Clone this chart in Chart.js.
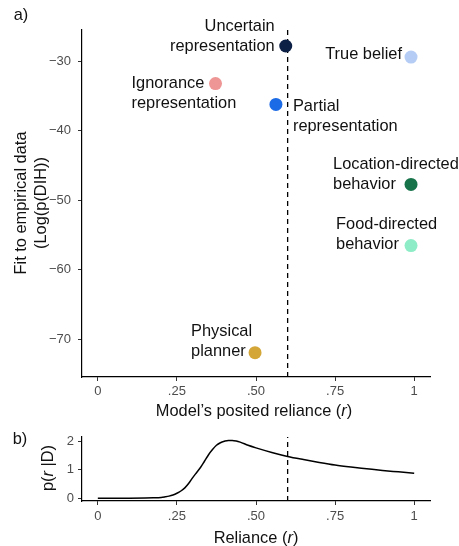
<!DOCTYPE html>
<html>
<head>
<meta charset="utf-8">
<script src="https://cdn.jsdelivr.net/npm/chart.js@4.4.1/dist/chart.umd.min.js"></script>
<style>
  body { margin: 0; background: #fff; }
  #wrap { position: relative; width: 459px; height: 546px; font-family: "Liberation Sans", Arial, sans-serif; color: #111; }
  canvas { position: absolute; left: 0; }
  .t { position: absolute; font-size: 16.4px; white-space: nowrap; line-height: 20px; }
  .c { transform: translate(-50%, -50%); }
  .rot { transform: translate(-50%, -50%) rotate(-90deg); text-align: center; }
</style>
</head>
<body>
<div id="wrap">
  <canvas id="chartA" width="459" height="420" style="top:0"></canvas>
  <canvas id="chartB" width="459" height="126" style="top:420px"></canvas>
  <div class="t c" style="left:21px; top:14px">a)</div>
  <div class="t c" style="left:20px; top:438px">b)</div>
  <div class="t c" style="left:254px; top:410px">Model’s posited reliance (<i>r</i>)</div>
  <div class="t c" style="left:256px; top:537px">Reliance (<i>r</i>)</div>
  <div class="t rot" style="left:30px; top:203px">Fit to empirical data<br>(Log(p(DIH))</div>
  <div class="t rot" style="left:47px; top:468px">p(<i>r</i> |D)</div>
</div>
<script>
// panel a: model fits
const models = ['Uncertain\nrepresentation', 'True belief', 'Ignorance\nrepresentation', 'Partial\nrepresentation',
  'Location-directed\nbehavior', 'Food-directed\nbehavior', 'Physical\nplanner'];
const reliance = [0.594, 0.99, 0.372, 0.563, 0.99, 0.99, 0.497];
const fit = [-27.8, -29.4, -33.2, -36.2, -47.7, -56.5, -71.9];
const optimalReliance = 0.6;

// panel b: posterior over reliance
const curveR = [0, 0.05, 0.1, 0.15, 0.175, 0.2, 0.2125, 0.225, 0.2375, 0.25, 0.2625, 0.275, 0.2875, 0.3,
  0.3125, 0.325, 0.3375, 0.35, 0.3625, 0.375, 0.3875, 0.4, 0.4125, 0.425, 0.4375, 0.45, 0.475, 0.5,
  0.55, 0.6, 0.65, 0.7, 0.75, 0.8, 0.85, 0.9, 0.95, 1];
const curveP = [0, 0, 0, 0.003, 0.01, 0.025, 0.045, 0.07, 0.11, 0.17, 0.25, 0.36, 0.52, 0.72,
  0.9, 1.08, 1.3, 1.52, 1.7, 1.85, 1.94, 1.99, 2.02, 2.02, 2.0, 1.96, 1.85, 1.76,
  1.6, 1.46, 1.35, 1.25, 1.16, 1.09, 1.03, 0.97, 0.92, 0.87];

const xTicks = [0, 0.25, 0.5, 0.75, 1];
const xTickLabels = ['0', '.25', '.50', '.75', '1'];
const yTicksA = [-70, -60, -50, -40, -30];
const yTickLabelsA = ['\u221270', '\u221260', '\u221250', '\u221240', '\u221230'];
const yTicksB = [0, 1, 2];

const pointColors = ['#0c1f45', '#b5cdf5', '#ee9595', '#1b6ae6', '#17734a', '#8eedc7', '#d4a637'];
// label placement relative to the point: align, dx, dy of first line
const labelPlace = [
  ['right', -11, -20], ['right', -9, -3], ['left', -84, 0], ['left', 17, 2],
  ['left', -78, -20], ['left', -75, -21], ['left', -64, -21]
];

Chart.defaults.font.family = '"Liberation Sans", Arial, sans-serif';
Chart.defaults.animation = false;

function fixedTicks(vals) {
  return scale => { scale.ticks = vals.map(v => ({ value: v })); };
}

function axis(extra) {
  return Object.assign({
    type: 'linear',
    border: { display: true, color: '#000', width: 1.2 },
    grid: { drawOnChartArea: false, drawTicks: true, tickLength: 4, color: '#333', lineWidth: 1 },
  }, extra);
}

const pointLabels = {
  id: 'pointLabels',
  afterDatasetsDraw(chart) {
    const ctx = chart.ctx, xs = chart.scales.x, ys = chart.scales.y;
    ctx.save();
    ctx.font = '16.4px "Liberation Sans", Arial, sans-serif';
    ctx.fillStyle = '#111';
    ctx.textBaseline = 'middle';
    models.forEach((name, i) => {
      const [align, dx, dy] = labelPlace[i];
      const px = xs.getPixelForValue(reliance[i]) + dx;
      const py = ys.getPixelForValue(fit[i]) + dy;
      ctx.textAlign = align;
      name.split('\n').forEach((line, k) => ctx.fillText(line, px, py + k * 20));
    });
    ctx.restore();
  }
};

new Chart(document.getElementById('chartA'), {
  type: 'scatter',
  data: {
    datasets: [{
      data: reliance.map((r, i) => ({ x: r, y: fit[i] })),
      pointBackgroundColor: pointColors,
      pointBorderWidth: 0,
      pointRadius: 6.5,
      order: 0
    }, {
      type: 'line',
      data: [{ x: optimalReliance, y: -75.4 }, { x: optimalReliance, y: -25.5 }],
      borderColor: '#000', borderWidth: 1.3, borderDash: [5, 4], pointRadius: 0,
      order: 1
    }]
  },
  options: {
    responsive: false,
    layout: { padding: { left: 0, top: 30, right: 29, bottom: 0 } },
    plugins: { legend: { display: false }, tooltip: { enabled: false } },
    scales: {
      x: axis({
        min: -0.05, max: 1.05,
        afterBuildTicks: fixedTicks(xTicks),
        afterFit: s => { s.height = 43; },
        ticks: { padding: 3, color: '#4d4d4d', font: { size: 13 },
          callback: (v) => xTickLabels[xTicks.indexOf(v)] }
      }),
      y: axis({
        min: -75.4, max: -25.5,
        afterBuildTicks: fixedTicks(yTicksA),
        afterFit: s => { s.width = 82; },
        ticks: { padding: 7, color: '#4d4d4d', font: { size: 13 },
          callback: (v) => yTickLabelsA[yTicksA.indexOf(v)] }
      })
    }
  },
  plugins: [pointLabels]
});

new Chart(document.getElementById('chartB'), {
  type: 'scatter',
  data: {
    datasets: [{
      type: 'line',
      data: curveR.map((r, i) => ({ x: r, y: curveP[i] })),
      borderColor: '#000', borderWidth: 1.5, pointRadius: 0, cubicInterpolationMode: 'monotone'
    }, {
      type: 'line',
      data: [{ x: optimalReliance, y: -0.1 }, { x: optimalReliance, y: 2.14 }],
      borderColor: '#000', borderWidth: 1.3, borderDash: [5, 4], pointRadius: 0
    }]
  },
  options: {
    responsive: false,
    layout: { padding: { left: 0, top: 17, right: 29, bottom: 0 } },
    plugins: { legend: { display: false }, tooltip: { enabled: false } },
    scales: {
      x: axis({
        min: -0.05, max: 1.05,
        afterBuildTicks: fixedTicks(xTicks),
        afterFit: s => { s.height = 45; },
        ticks: { padding: 4, color: '#4d4d4d', font: { size: 13 },
          callback: (v) => xTickLabels[xTicks.indexOf(v)] }
      }),
      y: axis({
        min: -0.1, max: 2.14,
        afterBuildTicks: fixedTicks(yTicksB),
        afterFit: s => { s.width = 82; },
        ticks: { padding: 4, color: '#4d4d4d', font: { size: 13 } }
      })
    }
  }
});
</script>
</body>
</html>
